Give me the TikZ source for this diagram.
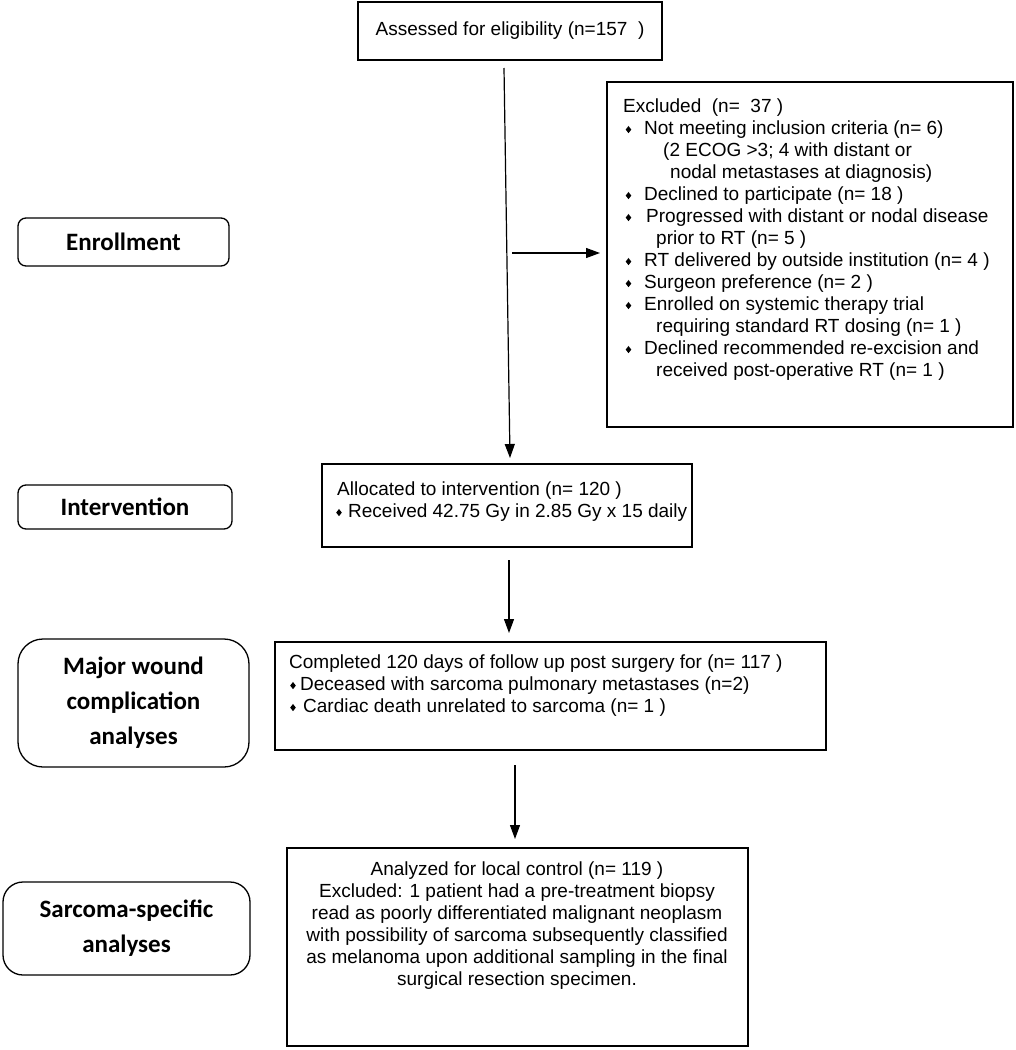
\documentclass[tikz,border=0pt]{standalone}
\usepackage{fontspec}
\setmainfont{Liberation Sans}
\newfontfamily\labfont{Carlito}
\usetikzlibrary{arrows.meta}
\newcommand\dbul{\raisebox{1.8pt}{\tikz[x=1pt,y=1pt]\fill (0,0)--(2.8,3.6)--(5.6,0)--(2.8,-3.6)--cycle;}}
\newcommand\bl{\makebox[21pt][l]{\hspace*{2.5pt}\dbul}}
\begin{document}
\begin{tikzpicture}[x=1pt,y=-1pt,
  font=\fontsize{19}{22}\selectfont,
  box/.style={draw, line width=1.3pt, inner sep=0pt},
  txt/.style={inner sep=0pt, align=left},
  lab/.style={draw, line width=1.3pt, rounded corners=8pt, inner sep=0pt, align=center,
    font=\labfont\bfseries\fontsize{25}{35}\selectfont},
  arr/.style={line width=1.2pt, -{Triangle[length=14pt,width=10pt]}}]
\useasboundingbox (0,0) rectangle (1016,1050);

% main boxes
\node[box, minimum width=304, minimum height=58] (assess) at (510,31) {Assessed for eligibility (n=157\ \ )};
\node[box, minimum width=406, minimum height=345] (excl) at (810,254.5) {};
\node[txt, anchor=north west] (excltxt) at (623,99) {%
Excluded\ \ (n=\ \ 37 )\\
\bl Not meeting inclusion criteria (n= 6)\\
\hspace*{40pt}(2 ECOG >3; 4 with distant or\\
\hspace*{47pt}nodal metastases at diagnosis)\\
\bl Declined to participate (n= 18 )\\
\makebox[23pt][l]{\hspace*{2.5pt}\dbul}Progressed with distant or nodal disease\\
\hspace*{33pt}prior to RT (n= 5 )\\
\bl RT delivered by outside institution (n= 4 )\\
\bl Surgeon preference (n= 2 )\\
\bl Enrolled on systemic therapy trial\\
\hspace*{33pt}requiring standard RT dosing (n= 1 )\\
\bl Declined recommended re-excision and\\
\hspace*{33pt}received post-operative RT (n= 1 )};

\node[box, minimum width=370, minimum height=83] (alloc) at (507,505.5) {};
\node[txt, anchor=north west] (alloctxt) at (335,482) {%
\hspace*{2pt}Allocated to intervention (n= 120 )\\
\makebox[13pt][l]{\hspace*{1pt}\dbul}Received 42.75 Gy in 2.85 Gy x 15 daily};

\node[box, minimum width=551, minimum height=108] (compl) at (550.5,696) {};
\node[txt, anchor=north west] (compltxt) at (289,655) {%
Completed 120 days of follow up post surgery for (n= 117 )\\
\makebox[11pt][l]{\hspace*{1pt}\dbul}Deceased with sarcoma pulmonary metastases (n=2)\\
\makebox[14pt][l]{\hspace*{1pt}\dbul}Cardiac death unrelated to sarcoma (n= 1 )};

\node[box, minimum width=461, minimum height=198] (anal) at (517.5,947) {};
\node[inner sep=0pt, align=center, anchor=north] (analtxt) at (517,862) {%
Analyzed for local control (n= 119 )\\
Excluded: 1 patient had a pre-treatment biopsy\\
read as poorly differentiated malignant neoplasm\\
with possibility of sarcoma subsequently classified\\
as melanoma upon additional sampling in the final\\
surgical resection specimen.};

% stage labels
\node[lab, minimum width=211, minimum height=48] (enroll) at (123.5,242) {Enrollment};
\node[lab, minimum width=214, minimum height=44] (interv) at (125,507) {Intervention};
\node[lab, rounded corners=25pt, minimum width=231, minimum height=128] (major) at (133.5,703) {Major wound\\complication\\analyses};
\node[lab, rounded corners=20pt, minimum width=247, minimum height=93] (sarc) at (126.5,928.5) {Sarcoma-specific\\analyses};

% connectors
\coordinate (a1s) at (504,68);
\coordinate (a1e) at (510,458);
\draw[arr] (a1s) -- (a1e);
\coordinate (a2s) at (512,253);
\coordinate (a2e) at (600,253);
\draw[arr] (a2s) -- (a2e);
\coordinate (a3s) at (509,560);
\coordinate (a3e) at (509,633);
\draw[arr] (a3s) -- (a3e);
\coordinate (a4s) at (515,765);
\coordinate (a4e) at (515,839);
\draw[arr] (a4s) -- (a4e);
\end{tikzpicture}
\end{document}
